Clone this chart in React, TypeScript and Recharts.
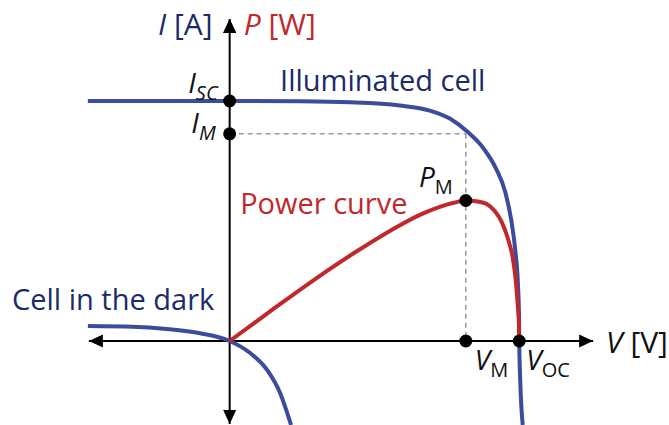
import React from 'react';
import { ComposedChart, Line, XAxis, YAxis, ReferenceLine, ReferenceDot } from 'recharts';

// V in volts, I in amps, P in watts
const illuminated = [
  { v: -0.284, i: 3.0 },
  { v: 0.0, i: 3.0 },
  { v: 0.141, i: 2.996 },
  { v: 0.241, i: 2.984 },
  { v: 0.341, i: 2.944 },
  { v: 0.401, i: 2.88 },
  { v: 0.441, i: 2.78 },
  { v: 0.477, i: 2.612 },
  { v: 0.508, i: 2.412 },
  { v: 0.533, i: 2.162 },
  { v: 0.552, i: 1.862 },
  { v: 0.564, i: 1.512 },
  { v: 0.572, i: 1.138 },
  { v: 0.5775, i: 0.7 },
  { v: 0.5795, i: 0.325 },
  { v: 0.58, i: 0.0 },
  { v: 0.582, i: -0.488 },
  { v: 0.587, i: -1.05 },
];

const dark = [
  { v: -0.284, i: 0.188 },
  { v: -0.194, i: 0.179 },
  { v: -0.126, i: 0.15 },
  { v: -0.059, i: 0.096 },
  { v: 0.0, i: 0.0 },
  { v: 0.041, i: -0.15 },
  { v: 0.075, i: -0.362 },
  { v: 0.101, i: -0.65 },
  { v: 0.123, i: -1.05 },
];

const power = [
  { v: 0.0, p: 0.0 },
  { v: 0.081, p: 0.258 },
  { v: 0.167, p: 0.527 },
  { v: 0.261, p: 0.8 },
  { v: 0.341, p: 1.01 },
  { v: 0.381, p: 1.1 },
  { v: 0.421, p: 1.17 },
  { v: 0.451, p: 1.207 },
  { v: 0.473, p: 1.225 },
  { v: 0.497, p: 1.216 },
  { v: 0.515, p: 1.194 },
  { v: 0.531, p: 1.133 },
  { v: 0.545, p: 1.037 },
  { v: 0.557, p: 0.898 },
  { v: 0.567, p: 0.724 },
  { v: 0.573, p: 0.532 },
  { v: 0.577, p: 0.314 },
  { v: 0.5795, p: 0.14 },
  { v: 0.58, p: 0.0 },
];

// characteristic points
const ISC = 3.0;
const IM = 2.59;
const VM = 0.473;
const VOC = 0.58;
const PM = 1.225;

// arrowed axis extents
const vAxis = [-0.282, 0.728];
const iAxis = [-1.0375, 4.025];

const FONT = '"Open Sans", sans-serif';
const NAVY = '#1c2a6a';
const BLUE = '#3c4b9b';
const RED = '#c0282b';
const INK = '#111';

type Dir = 'up' | 'down' | 'left' | 'right';

const arrowHead = (dir: Dir) => (p: any) => {
  const { cx, cy } = p;
  const L = 14;
  const W = 6.5;
  let pts = '';
  if (dir === 'up') pts = `${cx},${cy} ${cx - W},${cy + L} ${cx + W},${cy + L}`;
  if (dir === 'down') pts = `${cx},${cy} ${cx - W},${cy - L} ${cx + W},${cy - L}`;
  if (dir === 'left') pts = `${cx},${cy} ${cx + L},${cy - W} ${cx + L},${cy + W}`;
  if (dir === 'right') pts = `${cx},${cy} ${cx - L},${cy - W} ${cx - L},${cy + W}`;
  return <polygon points={pts} fill="#000" />;
};

interface Sym {
  main: string;
  sub: string;
  subItalic?: boolean;
  dx: number;
  dy: number;
  anchor: 'start' | 'end';
}

const markedDot = (s: Sym) => (p: any) => (
  <g>
    <circle cx={p.cx} cy={p.cy} r={6.5} fill="#000" />
    <text x={p.cx + s.dx} y={p.cy + s.dy} textAnchor={s.anchor} fontFamily={FONT} fontSize={28} fill={INK}>
      <tspan fontStyle="italic">{s.main}</tspan>
      <tspan fontSize={20} dy={7} fontStyle={s.subItalic ? 'italic' : 'normal'}>{s.sub}</tspan>
    </text>
  </g>
);

const caption = (text: string, color: string) => (p: any) => (
  <text x={p.cx} y={p.cy} fontFamily={FONT} fontSize={29} fill={color}>
    {text}
  </text>
);

// axis quantity with italic symbol and bracketed unit
const unitLabel = (sym: string, unit: string, color: string, dx: number, dy: number, anchor: 'start' | 'end', dir: Dir) => (p: any) => (
  <g>
    {arrowHead(dir)(p)}
    <text x={p.cx + dx} y={p.cy + dy} textAnchor={anchor} fontFamily={FONT} fontSize={30} fill={color}>
      <tspan fontStyle="italic">{sym}</tspan>
      <tspan>{` [${unit}]`}</tspan>
    </text>
  </g>
);

export default function App() {
  return (
    <div style={{ position: 'absolute', left: 0, top: 0, background: '#fff' }}>
      <ComposedChart width={669} height={425} margin={{ top: 0, right: 0, bottom: 0, left: 0 }}>
        <XAxis type="number" dataKey="v" domain={[-0.46, 0.88]} hide allowDataOverflow />
        <YAxis yAxisId="i" type="number" domain={[-1.05, 4.2625]} hide allowDataOverflow />
        <YAxis yAxisId="p" type="number" domain={[-0.7324, 2.973]} hide allowDataOverflow />

        <ReferenceLine yAxisId="i" segment={[{ x: vAxis[0], y: 0 }, { x: vAxis[1], y: 0 }]} stroke="#000" strokeWidth={2} />
        <ReferenceLine yAxisId="i" segment={[{ x: 0, y: iAxis[0] }, { x: 0, y: iAxis[1] }]} stroke="#000" strokeWidth={2} />
        <ReferenceLine yAxisId="i" segment={[{ x: 0, y: IM }, { x: VM, y: IM }]} stroke="#999" strokeWidth={1.5} strokeDasharray="5 4" />
        <ReferenceLine yAxisId="i" segment={[{ x: VM, y: IM }, { x: VM, y: 0 }]} stroke="#999" strokeWidth={1.5} strokeDasharray="5 4" />

        <Line yAxisId="i" data={dark} dataKey="i" type="monotone" stroke={BLUE} strokeWidth={4} dot={false} activeDot={false} isAnimationActive={false} />
        <Line yAxisId="i" data={illuminated} dataKey="i" type="monotone" stroke={BLUE} strokeWidth={4} dot={false} activeDot={false} isAnimationActive={false} />
        <Line yAxisId="p" data={power} dataKey="p" type="monotone" stroke={RED} strokeWidth={4} dot={false} activeDot={false} isAnimationActive={false} />

        <ReferenceDot yAxisId="i" x={0} y={iAxis[1]} r={0} shape={unitLabel('I', 'A', NAVY, -17, 16, 'end', 'up')} />
        <ReferenceDot yAxisId="i" x={0} y={iAxis[1]} r={0} shape={unitLabel('P', 'W', RED, 14, 16, 'start', 'up')} />
        <ReferenceDot yAxisId="i" x={0} y={iAxis[0]} r={0} shape={arrowHead('down')} />
        <ReferenceDot yAxisId="i" x={vAxis[0]} y={0} r={0} shape={arrowHead('left')} />
        <ReferenceDot yAxisId="i" x={vAxis[1]} y={0} r={0} shape={unitLabel('V', 'V', INK, 13, 12, 'start', 'right')} />

        <ReferenceDot yAxisId="i" x={0.101} y={3.125} r={0} shape={caption('Illuminated cell', NAVY)} />
        <ReferenceDot yAxisId="i" x={0.021} y={1.5875} r={0} shape={caption('Power curve', RED)} />
        <ReferenceDot yAxisId="i" x={-0.436} y={0.3875} r={0} shape={caption('Cell in the dark', NAVY)} />

        <ReferenceDot yAxisId="i" x={0} y={ISC} r={6.5} shape={markedDot({ main: 'I', sub: 'SC', subItalic: true, dx: -12, dy: -8, anchor: 'end' })} />
        <ReferenceDot yAxisId="i" x={0} y={IM} r={6.5} shape={markedDot({ main: 'I', sub: 'M', subItalic: true, dx: -14, dy: -1, anchor: 'end' })} />
        <ReferenceDot yAxisId="p" x={VM} y={PM} r={6.5} shape={markedDot({ main: 'P', sub: 'M', dx: -13, dy: -13, anchor: 'end' })} />
        <ReferenceDot yAxisId="i" x={VM} y={0} r={6.5} shape={markedDot({ main: 'V', sub: 'M', dx: 9, dy: 29, anchor: 'start' })} />
        <ReferenceDot yAxisId="i" x={VOC} y={0} r={6.5} shape={markedDot({ main: 'V', sub: 'OC', dx: 7, dy: 29, anchor: 'start' })} />
      </ComposedChart>
    </div>
  );
}
